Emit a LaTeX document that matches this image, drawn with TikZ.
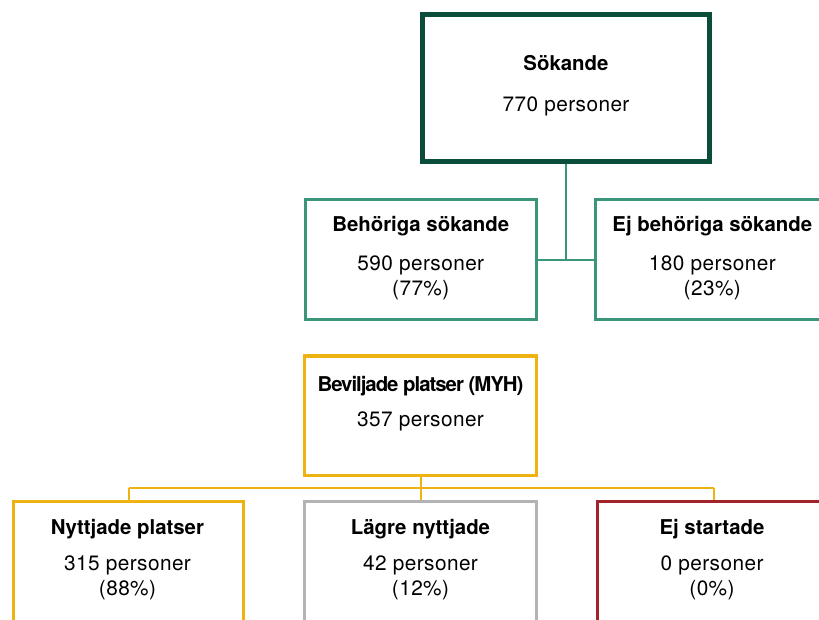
\documentclass[tikz,border=0pt]{standalone}
\usepackage{fontspec}
\setmainfont{TeX Gyre Heros}
\definecolor{dkgreen}{HTML}{0B4D3B}
\definecolor{tealc}{HTML}{3A957A}
\definecolor{yellowc}{HTML}{EEB212}
\definecolor{grayc}{HTML}{B3B3B3}
\definecolor{redc}{HTML}{A3232A}
\newdimen\pxu \pxu=0.75pt
\tikzset{
  box/.style={draw, rectangle, inner sep=0pt, fill=white},
  title/.style={anchor=base, inner sep=0pt, font=\fontsize{15.3pt}{18pt}\selectfont\bfseries},
  txt/.style={anchor=base, inner sep=0pt, font=\fontsize{15.6pt}{18pt}\selectfont\addfontfeature{LetterSpace=2}},
  conn/.style={line width=2\pxu},
}
\begin{document}
\begin{tikzpicture}[x=0.75pt,y=-0.75pt]
\useasboundingbox[fill=white] (0,0) rectangle (819,619);
% boxes
\node[box, draw=dkgreen, line width=4.5\pxu, minimum width=287\pxu, minimum height=147\pxu] (sok) at (566,88) {};
\node[box, draw=tealc, line width=3\pxu, minimum width=231.5\pxu, minimum height=120\pxu] (beh) at (420.75,259.5) {};
\node[box, draw=tealc, line width=3\pxu, minimum width=231.5\pxu, minimum height=120\pxu] (ejb) at (711.25,259.5) {};
\node[box, draw=yellowc, line width=3.3\pxu, minimum width=232\pxu, minimum height=119.5\pxu] (bev) at (420.5,415.75) {};
\node[box, draw=yellowc, line width=3\pxu, minimum width=230\pxu, minimum height=150\pxu] (nyt) at (128.5,576.5) {};
\node[box, draw=grayc, line width=3\pxu, minimum width=232\pxu, minimum height=150\pxu] (lag) at (420.5,576.5) {};
\node[box, draw=redc, line width=3\pxu, minimum width=232\pxu, minimum height=150\pxu] (ejs) at (713.5,576.5) {};
% connectors
\draw[conn, tealc] (sok.south) -- (sok.south |- beh.east);
\draw[conn, tealc] (beh.east) -- (ejb.west);
\coordinate (bus) at (420.5,488);
\draw[conn, yellowc] (bev.south) -- (bus);
\draw[conn, yellowc] (nyt.north |- bus) -- (ejs.north |- bus);
\draw[conn, yellowc] (nyt.north |- bus) -- (nyt.north);
\draw[conn, yellowc] (bus) -- (lag.north);
\draw[conn, yellowc] (ejs.north |- bus) -- (ejs.north);
% texts
\node[title] (sokt) at (566,70) {Sökande};
\node[txt] (sokn) at (566,111) {770 personer};
\node[title] (beht) at (420.75,231) {Behöriga sökande};
\node[txt] (behn) at (420.75,270) {590 personer};
\node[txt] (behp) at (420.75,295) {(77\%)};
\node[title] (ejbt) at (712.3,231) {Ej behöriga sökande};
\node[txt] (ejbn) at (712.3,270) {180 personer};
\node[txt] (ejbp) at (712.3,295) {(23\%)};
\node[title, font=\fontsize{15.3pt}{18pt}\selectfont\bfseries\addfontfeature{LetterSpace=-5}] (bevt) at (420.5,391) {Beviljade platser (MYH)};
\node[txt] (bevn) at (420.5,426) {357 personer};
\node[title] (nytt) at (127.5,534) {Nyttjade platser};
\node[txt] (nytn) at (127.5,570) {315 personer};
\node[txt] (nytp) at (127.5,595) {(88\%)};
\node[title] (lagt) at (420.5,534) {Lägre nyttjade};
\node[txt] (lagn) at (420.5,570) {42 personer};
\node[txt] (lagp) at (420.5,595) {(12\%)};
\node[title] (ejst) at (712,534) {Ej startade};
\node[txt] (ejsn) at (712,570) {0 personer};
\node[txt] (ejsp) at (712,595) {(0\%)};
\end{tikzpicture}
\end{document}
